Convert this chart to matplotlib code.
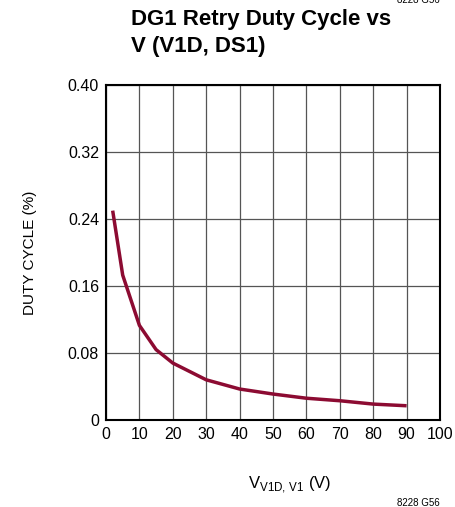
import matplotlib
matplotlib.use('Agg')
import matplotlib.pyplot as plt
from matplotlib import font_manager

names = {f.name for f in font_manager.fontManager.ttflist}
narrow = 'Liberation Sans Narrow' if 'Liberation Sans Narrow' in names else 'Liberation Sans'
plt.rcParams['font.family'] = [narrow, 'DejaVu Sans']
plt.rcParams['mathtext.fontset'] = 'custom'
plt.rcParams['mathtext.rm'] = narrow

# data
voltage = [2, 5, 10, 15, 20, 30, 40, 50, 60, 70, 80, 90]
duty = [0.250, 0.173, 0.113, 0.084, 0.068, 0.048, 0.037, 0.031, 0.026, 0.023, 0.019, 0.017]

x_ticks = [0, 10, 20, 30, 40, 50, 60, 70, 80, 90, 100]
y_ticks = [0, 0.08, 0.16, 0.24, 0.32, 0.40]
y_tick_labels = ['0', '0.08', '0.16', '0.24', '0.32', '0.40']

fig = plt.figure(figsize=(4.55, 5.07), dpi=100)
ax = fig.add_axes([106 / 455, 87 / 507, 334 / 455, 335 / 507])

ax.plot(voltage, duty, color='#8c0b32', linewidth=2.5, solid_capstyle='butt', zorder=3)

ax.set_xlim(0, 100)
ax.set_ylim(0, 0.40)
ax.set_xticks(x_ticks)
ax.set_yticks(y_ticks)
ax.set_yticklabels(y_tick_labels)
ax.tick_params(length=0, labelsize=11.5, pad=5)
ax.grid(True, color='#555555', linewidth=0.9)
for s in ax.spines.values():
    s.set_linewidth(1.5)
    s.set_color('black')

ax.set_ylabel('DUTY CYCLE (%)', fontsize=11, labelpad=22)
fig.text(290 / 455, 1 - 485 / 507, r'V$_{\mathregular{V1D{,}\ V1}}$ (V)', fontsize=12,
         ha='center', va='center')

fig.text(131 / 455, 1 - 9 / 507, 'DG1 Retry Duty Cycle vs\nV (V1D, DS1)', fontsize=16,
         fontweight='bold', ha='left', va='top', linespacing=1.35)
fig.text(440 / 455, 1 - 503 / 507, '8228 G56', fontsize=7, ha='right', va='center')
fig.text(440 / 455, 1.0, '8228 G56', fontsize=7, ha='right', va='center')

fig.savefig('out.png', dpi=100)
